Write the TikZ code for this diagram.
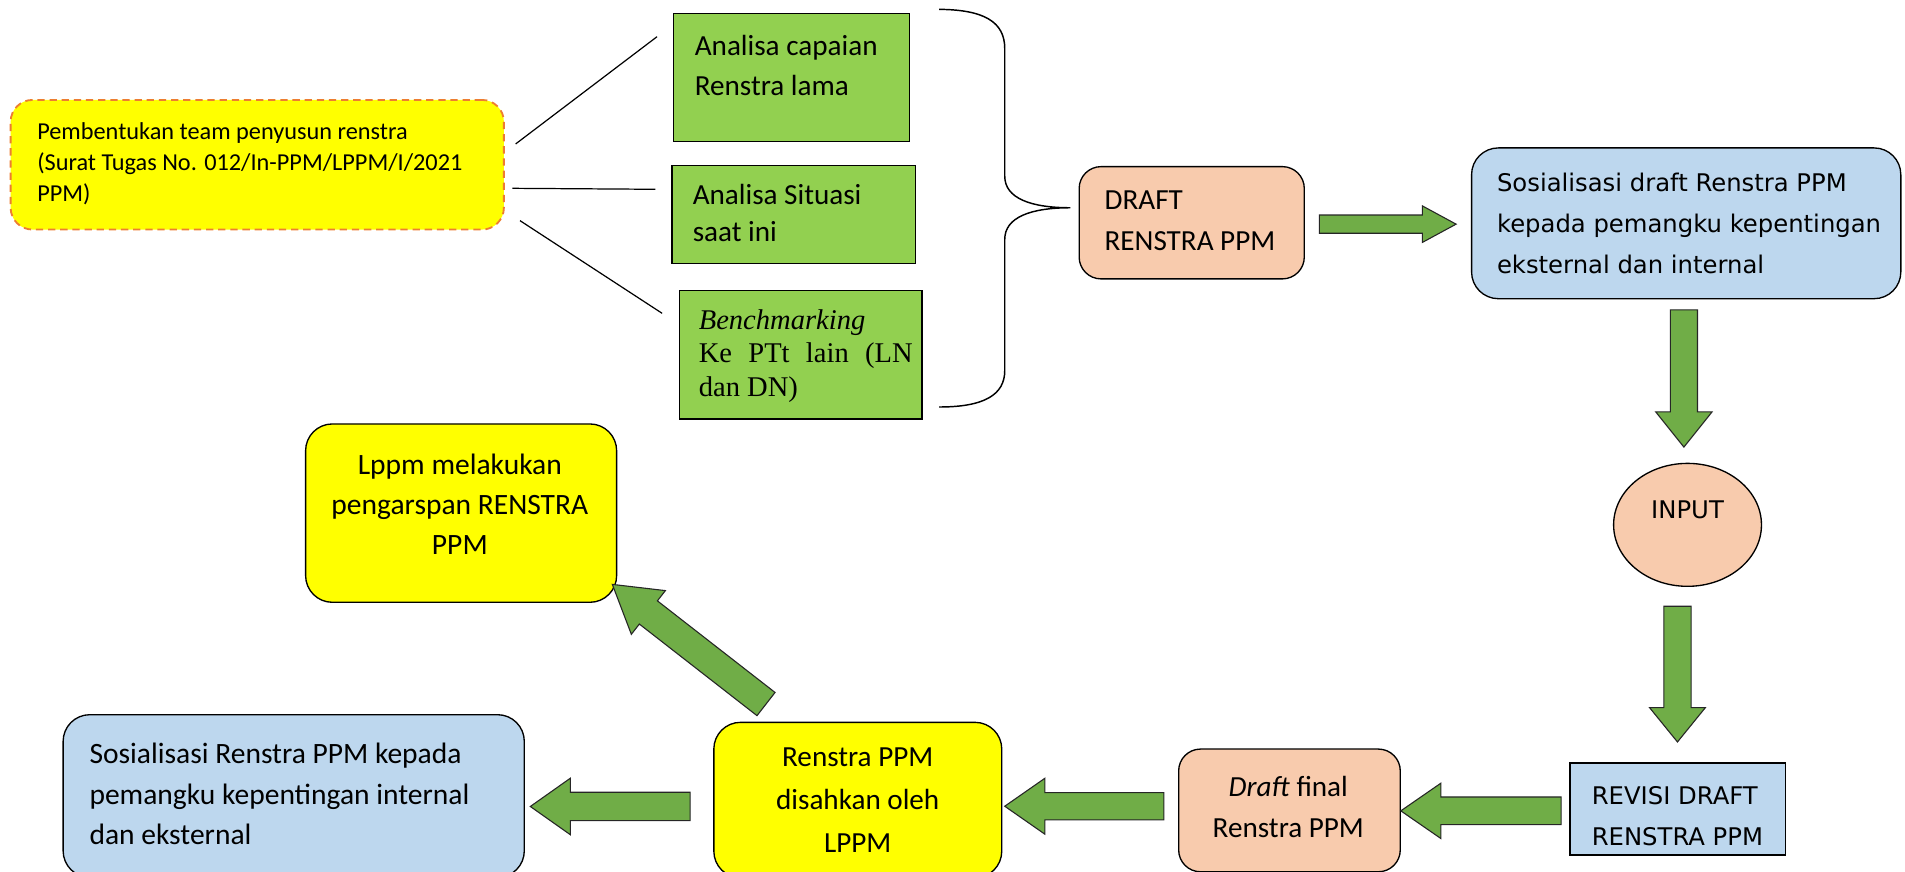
\documentclass[tikz,border=0pt]{standalone}
\usepackage{fontspec}
\setmainfont{Carlito}
\newfontfamily\verd{DejaVu Sans}
\newfontfamily\tms{Liberation Serif}
\usetikzlibrary{calc,shapes.geometric}
\definecolor{ylw}{HTML}{FFFF00}
\definecolor{grn}{HTML}{92D050}
\definecolor{arr}{HTML}{70AD47}
\definecolor{org}{HTML}{F8CBAD}
\definecolor{blu}{HTML}{BDD7EE}
\definecolor{dsh}{HTML}{ED7D31}
\newcommand{\blockarrow}[6]{%
  \coordinate (#1h) at ($(#3)!#6!(#2)$);
  \draw[barrow] ($(#2)!#4!90:(#3)$) -- ($(#1h)!#4!90:(#3)$) -- ($(#1h)!#5!90:(#3)$) -- (#3)
    -- ($(#1h)!#5!-90:(#3)$) -- ($(#1h)!#4!-90:(#3)$) -- ($(#2)!#4!-90:(#3)$) -- cycle;
}
\tikzset{
  basebox/.style={draw=black, line width=1.1pt, inner sep=0pt, anchor=north west},
  gbox/.style={basebox, fill=grn},
  rbox/.style={basebox, rounded corners=20pt},
  txt/.style={inner sep=0pt, font=\fontsize{24}{33.7}\selectfont, align=left, anchor=base west},
  ctxt/.style={txt, align=center, anchor=base},
  vtxt/.style={txt, font=\verd\fontsize{20}{33.8}\selectfont},
  barrow/.style={draw=black!85, line width=0.9pt, fill=arr, line join=miter},
  link/.style={draw=black, line width=1pt},
}
\begin{document}
\begin{tikzpicture}[x=1pt,y=-1pt]
\useasboundingbox (0,0) rectangle (1568,717);

% top-left yellow dashed box
\node[basebox, draw=dsh, line width=1.5pt, dash pattern=on 6pt off 4pt, rounded corners=18pt, fill=ylw,
  minimum width=406pt, minimum height=106.7pt] (team) at (8,81.5) {};
\node[txt, font=\fontsize{20}{25.7}\selectfont] (teamt) at (30.5,166)
  {Pembentukan team penyusun renstra\\(Surat Tugas No. 012/In-PPM/LPPM/I/2021\\PPM)};

% green boxes
\node[gbox, minimum width=194pt, minimum height=105.6pt] (g1) at (554,10.4) {};
\node[txt] (g1t) at (571.7,79) {Analisa capaian\\Renstra lama};
\node[gbox, minimum width=200.2pt, minimum height=80.7pt] (g2) at (552.6,135.5) {};
\node[txt, font=\fontsize{24}{31}\selectfont] (g2t) at (570,199) {Analisa Situasi\\saat ini};
\node[gbox, minimum width=199.4pt, minimum height=105.6pt] (g3) at (559,238.7) {};
\node[txt, font=\tms\fontsize{23.5}{27.5}\selectfont] (g3t) at (575,326)
  {\textit{Benchmarking}\\\makebox[176pt][s]{Ke PTt lain (LN}\\dan DN)};

% links
\coordinate (l1a) at (424.4,118.5); \coordinate (l1b) at (540.8,30.2);
\coordinate (l2a) at (421.8,155);   \coordinate (l2b) at (539.4,155.8);
\coordinate (l3a) at (428,181.6);   \coordinate (l3b) at (545,257.9);
\draw[link] (l1a) -- (l1b);
\draw[link] (l2a) -- (l2b);
\draw[link] (l3a) -- (l3b);

% brace
\draw[line width=1.2pt] (773,7.7) .. controls (810,8) and (827,18) .. (827,40) -- (827,145)
  .. controls (827,163) and (848,171) .. (881,171)
  .. controls (848,171) and (827,179) .. (827,197) -- (827,305)
  .. controls (827,325) and (810,335) .. (773,335);

% DRAFT
\node[rbox, rounded corners=18pt, fill=org, minimum width=185.3pt, minimum height=92.4pt] (draft) at (887.7,136.6) {};
\node[txt] (draftt) at (909,206.3) {DRAFT\\RENSTRA PPM};

% Sosialisasi draft
\node[rbox, rounded corners=22pt, fill=blu, minimum width=353.3pt, minimum height=124.1pt] (sosd) at (1210.7,121.2) {};
\node[vtxt] (sosdt) at (1232,225.5) {Sosialisasi draft Renstra PPM\\kepada pemangku kepentingan\\eksternal dan internal};

% INPUT
\node[draw=black, line width=1.1pt, ellipse, fill=org, minimum width=121.7pt, minimum height=101.2pt, inner sep=0pt] (inp) at (1389,432) {};
\node[vtxt, anchor=base] (inpt) at (1389,426.4) {INPUT};

% REVISI
\node[basebox, fill=blu, minimum width=177pt, minimum height=75.6pt] (rev) at (1291.8,627.6) {};
\node[vtxt] (revt) at (1310,696) {REVISI DRAFT\\RENSTRA PPM};

% Draft final
\node[rbox, rounded corners=18pt, fill=org, minimum width=182.4pt, minimum height=101pt] (dfin) at (969.6,616) {};
\node[ctxt] (dfint) at (1060.4,689) {\textit{Draft} final\\Renstra PPM};

% Renstra disahkan
\node[rbox, rounded corners=22pt, fill=ylw, minimum width=237pt, minimum height=128pt] (sah) at (587,594) {};
\node[ctxt, font=\fontsize{24}{35.5}\selectfont] (saht) at (706,702) {Renstra PPM\\disahkan oleh\\LPPM};

% Sosialisasi Renstra
\node[rbox, rounded corners=22pt, fill=blu, minimum width=379.6pt, minimum height=134pt] (sosr) at (51.4,587.7) {};
\node[txt, font=\fontsize{24.3}{33.7}\selectfont] (sosrt) at (73.5,695.5) {Sosialisasi Renstra PPM kepada\\pemangku kepentingan internal\\dan eksternal};

% Lppm
\node[rbox, rounded corners=22pt, fill=ylw, minimum width=256pt, minimum height=146.8pt] (arsip) at (251,348.4) {};
\node[ctxt, font=\fontsize{24.3}{32.8}\selectfont] (arsipt) at (378.5,456) {Lppm melakukan\\pengarspan RENSTRA\\PPM};

% block arrows
\coordinate (a1s) at (1086,184.5);  \coordinate (a1t) at (1198.5,184.5);
\coordinate (a2s) at (1386,255);    \coordinate (a2t) at (1386,368);
\coordinate (a3s) at (1380.7,499);  \coordinate (a3t) at (1380.7,610.7);
\coordinate (a4s) at (1285,667.4);  \coordinate (a4t) at (1153,667.4);
\coordinate (a5s) at (958,663.6);   \coordinate (a5t) at (827,663.6);
\coordinate (a6s) at (568,663.8);   \coordinate (a6t) at (436.5,663.8);
\coordinate (a7s) at (630.5,579.5); \coordinate (a7t) at (504,481);
\blockarrow{a1}{a1s}{a1t}{7.5pt}{15pt}{27.7pt}
\blockarrow{a2}{a2s}{a2t}{11.2pt}{23.2pt}{29pt}
\blockarrow{a3}{a3s}{a3t}{11.2pt}{23pt}{28.3pt}
\blockarrow{a4}{a4s}{a4t}{11.4pt}{22.8pt}{33pt}
\blockarrow{a5}{a5s}{a5t}{11.2pt}{23pt}{33pt}
\blockarrow{a6}{a6s}{a6t}{11.7pt}{23.3pt}{33pt}
\blockarrow{a7}{a7s}{a7t}{12.1pt}{22.8pt}{37.6pt}
\end{tikzpicture}
\end{document}
